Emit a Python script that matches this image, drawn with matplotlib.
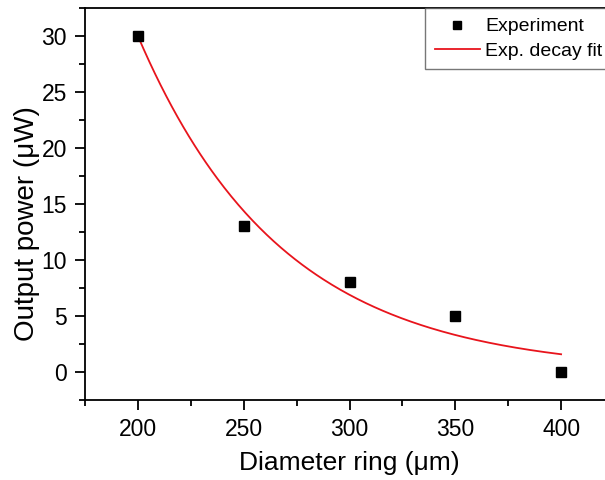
import numpy as np
import matplotlib
matplotlib.use("Agg")
import matplotlib.pyplot as plt
from matplotlib.ticker import MultipleLocator

plt.rcParams['font.family'] = ['Liberation Sans', 'DejaVu Sans']

diameter = [200, 250, 300, 350, 400]
power = [30, 13, 8, 5, 0]

# exponential decay fit parameters: y = y0 + A*exp(-(x-x0)/t)
fit_A = 30.0
fit_x0 = 200.0
fit_t = 68.0
fit_y0 = 0.0

fig = plt.figure(figsize=(6.05, 4.8), dpi=100)
W, H = 605, 480
ax_left, ax_right, ax_top, ax_bottom = 85, 614, 8, 400
ax = fig.add_axes([ax_left / W, 1 - ax_bottom / H, (ax_right - ax_left) / W, (ax_bottom - ax_top) / H])

xf = np.linspace(200, 400, 300)
yf = fit_y0 + fit_A * np.exp(-(xf - fit_x0) / fit_t)
ax.plot(diameter, power, 's', color='black', markersize=6.5, linestyle='none', label='Experiment', zorder=3)
ax.plot(xf, yf, '-', color='#e8141c', linewidth=1.3, label='Exp. decay fit')

ax.set_xlim(175, 425)
ax.set_ylim(-2.5, 32.5)
ax.xaxis.set_major_locator(MultipleLocator(50))
ax.xaxis.set_minor_locator(MultipleLocator(25))
ax.yaxis.set_major_locator(MultipleLocator(5))
ax.yaxis.set_minor_locator(MultipleLocator(2.5))
ax.tick_params(which='both', direction='out', top=False, right=False, width=1.3)
ax.tick_params(which='major', length=7, labelsize=16.5, pad=6)
ax.tick_params(which='minor', length=4)
for s in ax.spines.values():
    s.set_linewidth(1.3)

ax.set_xlabel('Diameter ring (μm)', fontsize=19)
ax.set_ylabel('Output power (μW)', fontsize=20)
ax.xaxis.set_label_coords(0.5, -0.13)
ax.yaxis.set_label_coords(-0.085, 0.449)

leg = ax.legend(loc='upper right', bbox_to_anchor=(0.997, 1.0), fontsize=14, frameon=True,
                fancybox=False, edgecolor='#555555', borderaxespad=0, handlelength=2.3,
                handletextpad=0.3, borderpad=0.5, labelspacing=0.35, markerscale=0.8)
leg.get_frame().set_linewidth(1.0)

fig.savefig('out.png', dpi=100)
